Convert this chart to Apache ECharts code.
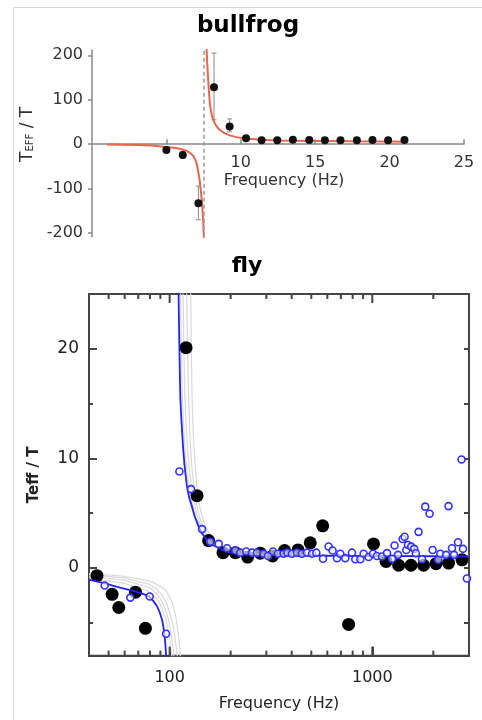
<!DOCTYPE html>
<html>
<head>
<meta charset="utf-8">
<script src="https://cdn.jsdelivr.net/npm/echarts@6/dist/echarts.min.js"></script>
<style>
  html, body { margin: 0; padding: 0; background: #fff; }
  #chart { width: 482px; height: 720px; }
</style>
</head>
<body>
<div id="chart"></div>
<script>
// ---- bullfrog panel ----
const frogFreq = [5.0, 6.1, 7.15, 8.2, 9.25, 10.35, 11.4, 12.45, 13.5, 14.6, 15.65, 16.7, 17.8, 18.85, 19.9, 21.0];
const frogRatio = [-13, -24, -133, 128, 40, 13.5, 9, 9, 10, 9.5, 9, 9, 9, 9.5, 9, 9.5];
const frogErrLow = [-18, -31, -170, 55, 28, 9, 6, 6, 7, 6.5, 6, 6, 6, 6.5, 6, 6.5];
const frogErrHigh = [-8, -17, -94, 205, 57, 18, 12, 12, 13, 12.5, 12, 12, 12, 12.5, 12, 12.5];
const frogFitBelow = [[1, -0.5], [2, -1], [3, -1.8], [4, -3], [4.5, -4.3], [5, -6], [5.5, -8], [5.9, -10], [6.3, -14], [6.6, -20], [6.8, -26], [6.9, -32], [7.0, -40], [7.07, -49], [7.13, -60], [7.22, -78], [7.3, -100], [7.37, -123], [7.43, -150], [7.47, -172], [7.5, -195], [7.55, -240]];
const frogFitAbove = [[7.64, 250], [7.67, 230], [7.7, 212], [7.74, 185], [7.78, 160], [7.81, 145], [7.86, 118], [7.92, 92], [8.0, 75], [8.07, 63], [8.14, 55], [8.3, 44], [8.45, 37], [8.59, 32], [8.9, 25], [9.26, 20], [9.7, 16], [10.3, 13], [11.4, 10], [12.5, 8.5], [15, 7.5], [17.5, 6.5], [20, 6], [21, 5.8]];
const frogResonance = 7.54;
const frogYMin = -208, frogYMax = 212;
const frogXTicks = [5, 10, 15, 20, 25];
const frogXLabels = [10, 15, 20, 25];
const frogYTicks = [-200, -100, 0, 100, 200];

// ---- fly panel ----
const flyFreq = [43.8, 52, 56.1, 67.8, 75.9, 120.5, 136.5, 155.7, 183.4, 210.9, 242.6, 280, 322, 369, 430, 494, 569, 764, 1014, 1169, 1349, 1552, 1791, 2063, 2378, 2772];
const flyRatio = [-0.7, -2.4, -3.6, -2.2, -5.5, 20.1, 6.6, 2.5, 1.4, 1.4, 1.0, 1.35, 1.1, 1.6, 1.65, 2.3, 3.85, -5.15, 2.2, 0.6, 0.25, 0.25, 0.25, 0.4, 0.45, 0.75];
const flyFineFreq = [47.8, 64, 79.7, 96, 111.7, 127.5, 144.5, 158.6, 174.5, 191.9, 210.9, 223.4, 238.9, 255, 269.8, 290.9, 305.8, 323.6, 342.7, 365.1, 381.9, 401.6, 425, 449.8, 476.4, 504.3, 529.3, 571.2, 608.5, 636.8, 669.9, 695.1, 735.9, 793.8, 824.3, 872.9, 906.2, 959.3, 1008, 1054, 1117, 1182, 1251, 1288, 1340, 1411, 1443, 1472, 1500, 1556, 1611, 1641, 1691, 1759, 1824, 1918, 1984, 2115, 2165, 2311, 2378, 2472, 2530, 2648, 2757, 2803, 2930];
const flyFineRatio = [-1.6, -2.7, -2.6, -6.0, 8.8, 7.2, 3.55, 2.4, 2.2, 1.8, 1.6, 1.4, 1.5, 1.4, 1.4, 1.3, 1.1, 1.5, 1.3, 1.3, 1.4, 1.3, 1.4, 1.3, 1.4, 1.3, 1.4, 0.85, 1.96, 1.6, 0.9, 1.3, 0.9, 1.4, 0.8, 0.8, 1.3, 1.0, 1.3, 1.1, 1.05, 1.36, 0.85, 2.05, 1.2, 2.65, 2.85, 1.65, 2.1, 1.95, 1.75, 1.35, 3.3, 0.8, 5.6, 4.95, 1.65, 0.75, 1.3, 1.2, 5.65, 1.8, 1.2, 2.35, 9.9, 1.75, -0.95];
const flyFitBelow = [[40, -1.06], [47, -1.35], [55, -1.73], [63, -2.0], [71.7, -2.27], [76, -2.45], [79.7, -2.65], [83, -3.0], [86.7, -3.49], [89.5, -4.1], [91.7, -4.7], [93, -5.3], [94.1, -5.9], [95.1, -6.8], [96, -7.9], [96.8, -9.5]];
const flyFitAbove = [[110.2, 30], [110.7, 24.85], [111.2, 22.3], [111.7, 20.15], [112.3, 17.7], [112.9, 15.6], [113.9, 14], [115.1, 12.57], [116.5, 11], [118.2, 9.55], [120, 8.4], [121.8, 7.42], [125, 6.4], [128.9, 5.6], [133, 4.7], [139, 3.78], [145, 3.1], [152.9, 2.57], [165, 2.05], [177.8, 1.73], [190, 1.52], [207, 1.36], [230, 1.28], [260, 1.22], [320, 1.18], [400, 1.15], [600, 1.12], [1000, 1.1], [3000, 1.05]];
// resampled fits (bootstrap)
const flyBootBelow = [
  [[40, -0.5], [60, -0.75], [80, -1.2], [88, -1.55], [95, -2.0], [99, -2.5], [103, -3.2], [106, -4.0], [108, -4.8], [110, -5.8], [111, -6.5], [112.2, -7.3], [113, -8], [113.8, -9.5]],
  [[40, -0.6], [60, -0.9], [80, -1.5], [87, -2.0], [92, -2.5], [96, -3.1], [99, -3.8], [102, -4.6], [104, -5.3], [105.6, -6.0], [107, -6.8], [108.1, -7.4], [109, -8], [110, -9.5]],
  [[40, -0.75], [60, -1.1], [80, -1.8], [85.5, -2.3], [90, -2.8], [94, -3.5], [97, -4.2], [99.3, -5.0], [101, -5.7], [102.4, -6.4], [103.5, -7], [104.3, -7.5], [105, -8], [106, -9.5]],
  [[40, -0.9], [60, -1.4], [78, -2.1], [84, -2.6], [88, -3.0], [92, -3.7], [95, -4.5], [97.2, -5.2], [99, -6], [100.1, -6.6], [101, -7.2], [101.8, -7.6], [102.5, -8], [103.5, -9.5]]
];
const flyBootAbove = [
  [[126.3, 30], [127, 25], [127.5, 22.5], [128, 20], [128.5, 17.8], [129, 15.6], [130, 13.7], [131, 12], [132.4, 10.4], [134, 9], [136, 7.6], [138, 6.5], [143, 5.0], [150, 3.8], [157, 3.1], [165, 2.6], [177, 2.1], [190, 1.8], [230, 1.4], [300, 1.27], [400, 1.2], [1000, 1.14], [3000, 1.1]],
  [[121.2, 30], [121.5, 25], [122, 22.5], [122.5, 20], [123.2, 17.8], [124, 15.6], [125, 13.7], [126, 12], [127.4, 10.4], [129, 9], [131, 7.8], [133, 6.8], [138, 5.1], [145, 3.9], [152, 3.2], [160, 2.7], [172, 2.2], [185, 1.85], [220, 1.4], [300, 1.27], [400, 1.2], [1000, 1.14], [3000, 1.1]],
  [[116.2, 30], [116.5, 25], [117, 22.5], [117.5, 20], [118.2, 17.8], [119, 15.6], [120.2, 13.7], [121.5, 12], [123.2, 10.4], [125, 9], [127.4, 7.8], [130, 6.8], [135, 5.1], [142, 3.9], [150, 3.2], [158, 2.65], [168, 2.2], [180, 1.8], [215, 1.38], [300, 1.25], [400, 1.18], [1000, 1.12], [3000, 1.08]],
  [[113.1, 30], [113.3, 25], [113.7, 22.5], [114.2, 20], [114.8, 17.8], [115.5, 15.6], [116.7, 13.7], [118, 12], [119.7, 10.4], [121.5, 9], [124, 7.7], [127, 6.6], [132, 5.0], [140, 3.85], [147, 3.15], [155, 2.6], [165, 2.15], [178, 1.77], [210, 1.36], [300, 1.23], [400, 1.16], [1000, 1.1], [3000, 1.06]]
];
const flyXMin = 40, flyXMax = 3000;
const flyYMin = -8, flyYMax = 25;
const flyXMajor = [100, 1000];
const flyXMinor = [50, 60, 70, 80, 90, 200, 300, 400, 500, 600, 700, 800, 900, 2000];
const flyYMajor = [0, 10, 20];
const flyYMinor = [-5, 5, 15];
const flyYAll = [-5, 0, 5, 10, 15, 20];

const FONT = 'DejaVu Sans';
const FRAME = '#444';
const frogGrid = { left: 92, right: 18, top: 50, bottom: 483.3 };
const frogGridHeight = 720 - frogGrid.top - frogGrid.bottom;
// the frequency axis crosses the ratio axis at zero
const frogXAxisOffset = -(0 - frogYMin) / (frogYMax - frogYMin) * frogGridHeight;

const chart = echarts.init(document.getElementById('chart'), null, { renderer: 'canvas' });

const zip = (xs, ys) => xs.map((x, i) => [x, ys[i]]);
const tickStyle = (len, values) => ({ show: true, inside: true, length: len, customValues: values, lineStyle: { color: FRAME, width: 2 } });

const flyYTickAxis = (extra) => Object.assign({
  type: 'value', gridIndex: 1, min: flyYMin, max: flyYMax,
  axisLine: { show: true, onZero: false, lineStyle: { color: FRAME, width: 2 } },
  splitLine: { show: false },
  axisLabel: { show: false }
}, extra);

// inward frequency ticks on the bottom and top edges of the fly frame
const flyFreqTicks = (values, len) => ({
  type: 'custom', xAxisIndex: 1, yAxisIndex: 1, silent: true, clip: false, z: 6,
  data: values.map((v) => [v]),
  encode: { x: 0 },
  renderItem: function (params, api) {
    const b = api.coord([api.value(0), flyYMin]);
    const t = api.coord([api.value(0), flyYMax]);
    const st = { stroke: FRAME, lineWidth: 2 };
    return { type: 'group', children: [
      { type: 'line', shape: { x1: b[0], y1: b[1], x2: b[0], y2: b[1] - len }, style: st },
      { type: 'line', shape: { x1: t[0], y1: t[1], x2: t[0], y2: t[1] + len }, style: st }
    ] };
  }
});

const bootSeries = [];
flyBootBelow.concat(flyBootAbove).forEach(function (curve) {
  bootSeries.push({
    type: 'line', xAxisIndex: 1, yAxisIndex: 1, data: curve,
    smooth: false, showSymbol: false, symbol: 'none', silent: true,
    lineStyle: { color: '#d8d8d8', width: 1.2 }, z: 1
  });
});

const option = {
  animation: false,
  backgroundColor: '#fff',
  textStyle: { fontFamily: FONT },
  graphic: [{
    type: 'rect', silent: true,
    shape: { x: 13.5, y: 7.5, width: 520, height: 760 },
    style: { fill: 'none', stroke: '#d9d9d9', lineWidth: 1 }
  }],
  title: [
    { text: 'bullfrog', left: 248, top: 15, textAlign: 'center', padding: 0,
      textStyle: { fontFamily: FONT, fontWeight: 'bold', fontSize: 23, color: '#000' } },
    { text: 'fly', left: 247, top: 255, textAlign: 'center', padding: 0,
      textStyle: { fontFamily: FONT, fontWeight: 'bold', fontSize: 22, color: '#000' } }
  ],
  grid: [
    Object.assign({ containLabel: false }, frogGrid),
    { left: 89, right: 13, top: 294, bottom: 64.3, containLabel: false,
      show: true, borderColor: FRAME, borderWidth: 2, backgroundColor: 'transparent' }
  ],
  xAxis: [
    {
      type: 'value', gridIndex: 0, min: 0, max: 25, position: 'bottom', offset: frogXAxisOffset,
      axisLine: { onZero: false, lineStyle: { color: '#888', width: 1.5 } },
      splitLine: { show: false },
      axisTick: { inside: true, length: 5, customValues: frogXTicks, lineStyle: { color: '#888', width: 1.5 } },
      axisLabel: { customValues: frogXLabels, margin: 11, fontFamily: FONT, fontSize: 16, color: '#333' },
      name: 'Frequency (Hz)', nameLocation: 'middle', nameGap: 29,
      nameTextStyle: { fontFamily: FONT, fontSize: 16, color: '#333', padding: [0, 0, 0, 12] }
    },
    {
      type: 'log', gridIndex: 1, min: flyXMin, max: flyXMax, logBase: 10, position: 'bottom',
      axisLine: { show: true, onZero: false, lineStyle: { color: FRAME, width: 2 } },
      splitLine: { show: false },
      axisTick: tickStyle(9, flyXMajor),
      axisLabel: { show: true, customValues: flyXMajor, margin: 14, fontFamily: FONT, fontSize: 16, color: '#222',
        formatter: (v) => String(v) },
      name: 'Frequency (Hz)', nameLocation: 'middle', nameGap: 40,
      nameTextStyle: { fontFamily: FONT, fontSize: 16, color: '#222' }
    }
  ],
  yAxis: [
    {
      type: 'value', gridIndex: 0, min: frogYMin, max: frogYMax, position: 'left',
      axisLine: { onZero: false, lineStyle: { color: '#888', width: 1.5 } },
      splitLine: { show: false },
      axisTick: { inside: false, length: 4, customValues: frogYTicks, lineStyle: { color: '#888', width: 1.5 } },
      axisLabel: { customValues: frogYTicks, margin: 9, fontFamily: FONT, fontSize: 16, color: '#333' },
      name: '{t|T}{s|EFF}{t| / T}', nameLocation: 'middle', nameGap: 52, nameRotate: 90,
      nameTextStyle: {
        padding: [0, 0, 0, 18],
        rich: {
          t: { fontFamily: FONT, fontSize: 17, color: '#333', verticalAlign: 'bottom', lineHeight: 20 },
          s: { fontFamily: FONT, fontSize: 10, color: '#333', verticalAlign: 'bottom', lineHeight: 14 }
        }
      }
    },
    flyYTickAxis({
      position: 'left',
      axisTick: tickStyle(8, flyYMajor),
      axisLabel: { show: true, customValues: flyYMajor, margin: 10, fontFamily: FONT, fontSize: 17, color: '#222' },
      name: 'Teff / T', nameLocation: 'middle', nameGap: 47, nameRotate: 90,
      nameTextStyle: { fontFamily: FONT, fontSize: 15, fontWeight: 'bold', color: '#222' }
    }),
    flyYTickAxis({ position: 'left', axisTick: tickStyle(4, flyYMinor) }),
    flyYTickAxis({ position: 'right', axisTick: tickStyle(5, flyYAll) })
  ],
  series: [
    // bullfrog fitted curve, both branches
    {
      type: 'line', xAxisIndex: 0, yAxisIndex: 0, data: frogFitBelow,
      smooth: false, showSymbol: false, symbol: 'none',
      lineStyle: { color: '#e8654f', width: 2 }, z: 3,
      markLine: {
        silent: true, symbol: 'none', label: { show: false },
        lineStyle: { color: '#999', type: [4, 3], width: 1.5 },
        data: [{ xAxis: frogResonance }]
      }
    },
    {
      type: 'line', xAxisIndex: 0, yAxisIndex: 0, data: frogFitAbove,
      smooth: false, showSymbol: false, symbol: 'none',
      lineStyle: { color: '#e8654f', width: 2 }, z: 3
    },
    // bullfrog error bars
    {
      type: 'custom', xAxisIndex: 0, yAxisIndex: 0, z: 2,
      data: frogFreq.map((f, i) => [f, frogErrLow[i], frogErrHigh[i]]),
      renderItem: function (params, api) {
        const lo = api.coord([api.value(0), api.value(1)]);
        const hi = api.coord([api.value(0), api.value(2)]);
        const w = 2.5;
        const st = { stroke: '#888', lineWidth: 1 };
        return { type: 'group', children: [
          { type: 'line', shape: { x1: lo[0], y1: lo[1], x2: hi[0], y2: hi[1] }, style: st },
          { type: 'line', shape: { x1: lo[0] - w, y1: lo[1], x2: lo[0] + w, y2: lo[1] }, style: st },
          { type: 'line', shape: { x1: hi[0] - w, y1: hi[1], x2: hi[0] + w, y2: hi[1] }, style: st }
        ] };
      }
    },
    {
      type: 'scatter', xAxisIndex: 0, yAxisIndex: 0, data: zip(frogFreq, frogRatio),
      symbol: 'circle', symbolSize: 8, itemStyle: { color: '#111', opacity: 1 }, z: 4
    },
    // fly
    ...bootSeries,
    flyFreqTicks(flyXMajor, 9),
    flyFreqTicks(flyXMinor, 5),
    {
      type: 'scatter', xAxisIndex: 1, yAxisIndex: 1, data: zip(flyFreq, flyRatio),
      symbol: 'circle', symbolSize: 13, itemStyle: { color: '#000', opacity: 1 }, z: 3
    },
    {
      type: 'line', xAxisIndex: 1, yAxisIndex: 1, data: flyFitBelow,
      smooth: false, showSymbol: false, symbol: 'none',
      lineStyle: { color: '#2424f0', width: 1.8 }, z: 4
    },
    {
      type: 'line', xAxisIndex: 1, yAxisIndex: 1, data: flyFitAbove,
      smooth: false, showSymbol: false, symbol: 'none',
      lineStyle: { color: '#2424f0', width: 1.8 }, z: 4
    },
    {
      type: 'scatter', xAxisIndex: 1, yAxisIndex: 1, data: zip(flyFineFreq, flyFineRatio),
      symbol: 'circle', symbolSize: 7,
      itemStyle: { color: 'rgba(255,255,255,0.6)', borderColor: '#3131ff', borderWidth: 1.6, opacity: 1 }, z: 5
    }
  ]
};
chart.setOption(option);
</script>
</body>
</html>
